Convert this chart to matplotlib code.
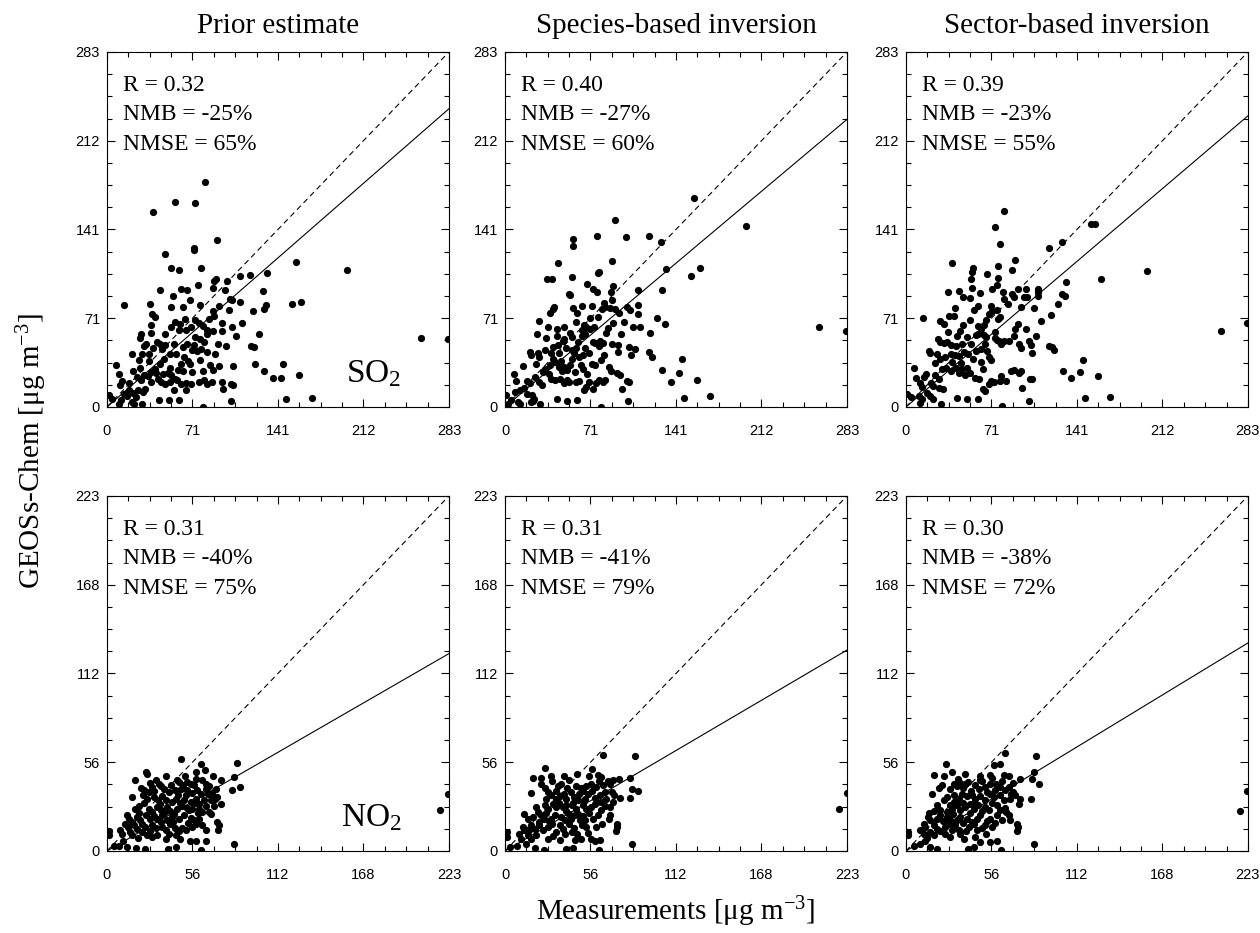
import numpy as np
import matplotlib
matplotlib.use("Agg")
import matplotlib.pyplot as plt
from matplotlib.ticker import AutoMinorLocator

plt.rcParams['font.family'] = ['Liberation Serif', 'DejaVu Serif']
plt.rcParams['mathtext.fontset'] = 'custom'
plt.rcParams['mathtext.rm'] = 'Liberation Serif'
plt.rcParams['mathtext.it'] = 'Liberation Serif:italic'

titles = ['Prior estimate', 'Species-based inversion', 'Sector-based inversion']
species = ['SO$_2$', 'NO$_2$']

so2_max = 282.8
no2_max = 223.4
so2_ticks = ['0', '71', '141', '212', '283']
no2_ticks = ['0', '56', '112', '168', '223']

# statistics printed in each panel
stat_R = [['0.32', '0.40', '0.39'], ['0.31', '0.31', '0.30']]
stat_NMB = [['-25', '-27', '-23'], ['-40', '-41', '-38']]
stat_NMSE = [['65', '60', '55'], ['75', '79', '72']]

# slope of the fitted line (through origin)
fit_slope = [[0.84, 0.81, 0.82], [0.556, 0.566, 0.586]]

so2_prior = [
    (81.2, 179.4), (56.3, 163.2), (73.2, 162.6), (38.4, 155.5), (90.6, 132.9), (71.8, 127.0),
    (72.0, 125.4), (48.3, 122.2), (53.0, 110.8), (59.3, 109.2), (77.9, 110.8), (132.2, 106.8),
    (156.0, 115.3), (198.5, 109.0), (118.4, 105.5), (110.0, 104.2), (99.1, 100.2), (88.6, 100.5),
    (90.0, 101.8), (75.6, 97.0), (44.2, 93.0), (61.0, 93.8), (66.5, 93.0), (98.0, 93.0),
    (128.7, 92.2), (54.4, 88.5), (68.5, 85.0), (76.8, 81.0), (87.5, 95.1), (101.9, 85.8),
    (103.8, 85.0), (110.0, 83.7), (35.3, 82.4), (14.1, 81.6), (52.7, 79.7), (62.7, 79.7),
    (92.5, 80.5), (101.0, 77.0), (131.1, 81.6), (129.5, 78.1), (153.2, 82.4), (160.7, 83.7),
    (120.4, 76.5), (37.3, 73.9), (39.5, 71.8), (88.9, 72.3), (87.8, 76.5), (73.2, 69.6),
    (64.6, 70.2), (56.3, 67.8), (60.5, 66.4), (52.7, 63.8), (36.0, 65.6), (76.2, 67.0),
    (79.5, 64.3), (84.0, 70.4), (95.2, 67.2), (111.8, 67.0), (103.0, 63.8), (82.8, 61.1),
    (83.0, 58.5), (69.6, 63.8), (65.2, 61.4), (59.6, 61.1), (48.3, 58.5), (28.2, 57.9),
    (27.6, 55.3), (36.0, 59.0), (87.5, 60.6), (106.6, 56.6), (125.6, 57.9), (95.0, 60.3),
    (41.4, 51.8), (43.6, 50.5), (47.8, 49.2), (55.5, 50.5), (32.0, 50.5), (30.7, 48.4),
    (66.3, 50.0), (72.0, 49.2), (76.8, 54.5), (77.6, 46.5), (62.7, 47.8), (92.2, 50.0),
    (98.6, 48.4), (118.7, 48.4), (121.2, 47.8), (38.4, 47.0), (45.8, 46.0), (82.6, 43.6),
    (74.8, 44.6), (20.7, 42.5), (29.0, 42.5), (34.5, 42.5), (51.9, 42.5), (57.4, 42.0),
    (89.2, 42.5), (47.2, 38.5), (26.8, 37.2), (34.5, 36.4), (66.8, 36.7), (68.5, 34.5),
    (61.0, 34.5), (76.8, 37.2), (85.0, 33.2), (93.0, 32.4), (104.1, 32.4), (122.3, 34.0),
    (145.8, 34.5), (7.2, 33.2), (27.3, 31.1), (21.5, 28.4), (36.7, 27.9), (40.9, 27.4),
    (46.4, 26.6), (50.5, 27.1), (53.3, 25.2), (58.8, 29.8), (63.0, 28.7), (70.1, 27.6),
    (79.0, 28.4), (87.8, 29.8), (129.8, 28.7), (159.0, 25.8), (136.9, 22.9), (144.1, 23.1),
    (9.7, 26.0), (24.8, 23.9), (28.4, 21.8), (34.0, 24.4), (42.2, 22.6), (44.5, 19.9),
    (48.0, 18.6), (51.9, 19.9), (36.4, 19.9), (58.3, 21.3), (61.6, 18.1), (65.7, 19.1),
    (69.9, 18.6), (76.0, 19.9), (80.0, 21.8), (82.6, 18.6), (87.2, 19.9), (95.5, 19.9),
    (102.4, 18.1), (104.4, 17.3), (96.1, 14.1), (65.2, 13.3), (55.8, 13.8), (31.8, 14.6),
    (25.7, 13.3), (29.8, 12.0), (17.9, 13.3), (10.5, 17.3), (13.8, 10.6), (16.6, 8.5),
    (21.5, 11.2), (11.9, 5.8), (3.9, 6.6), (1.7, 9.3), (9.9, 2.7), (21.0, 4.0),
    (22.4, 2.7), (29.0, 2.7), (43.3, 5.8), (51.1, 5.3), (59.9, 5.8), (79.8, 0.0),
    (102.2, 4.5), (147.7, 6.6), (169.2, 7.4), (259.8, 55.3), (282.4, 54.0),
    (40.0, 30.5), (44.0, 34.0), (52.0, 31.0), (56.0, 22.5), (63.5, 40.0), (70.0, 45.5),
    (72.5, 56.0), (80.5, 52.0), (31.0, 25.5), (18.5, 19.0), (24.0, 8.0), (12.5, 20.5),
]

so2_species = [
    (156.3, 166.8), (90.7, 149.2), (199.2, 143.9), (56.2, 134.0), (56.2, 128.4), (76.3, 135.9),
    (99.9, 135.4), (118.9, 135.9), (129.2, 131.1), (44.0, 114.6), (88.5, 115.9), (78.0, 107.9),
    (77.2, 107.1), (132.8, 109.8), (153.8, 104.7), (161.3, 110.6), (55.0, 103.9), (35.1, 102.1),
    (38.7, 101.8), (67.5, 97.8), (72.5, 93.8), (76.3, 91.4), (89.1, 96.7), (87.9, 91.4),
    (110.1, 93.5), (129.7, 93.5), (53.1, 89.8), (53.7, 89.0), (40.9, 79.9), (39.3, 77.8),
    (37.3, 74.6), (55.9, 79.1), (63.6, 80.7), (59.8, 74.6), (71.9, 80.5), (80.2, 78.3),
    (81.6, 82.6), (83.0, 79.9), (76.6, 71.9), (88.5, 85.3), (87.1, 78.6), (91.3, 77.8),
    (94.0, 74.6), (101.0, 79.4), (103.7, 77.3), (109.8, 81.3), (109.8, 73.8), (125.9, 71.1),
    (132.2, 66.1), (98.2, 67.4), (89.3, 66.6), (105.9, 63.9), (111.8, 63.4), (27.9, 68.5),
    (35.4, 63.4), (43.0, 62.1), (48.4, 63.4), (65.0, 65.3), (63.6, 61.3), (66.9, 63.9),
    (70.5, 61.8), (73.9, 63.9), (58.9, 67.9), (26.3, 57.8), (34.0, 54.6), (42.6, 56.5),
    (49.0, 53.8), (47.9, 52.5), (53.9, 58.6), (55.3, 55.4), (63.6, 56.8), (65.8, 58.1),
    (72.5, 52.0), (74.7, 50.6), (78.6, 52.2), (80.8, 50.6), (83.5, 58.6), (88.5, 50.1),
    (93.2, 49.3), (102.4, 48.0), (119.8, 59.2), (20.5, 44.0), (21.6, 41.3), (27.1, 42.6),
    (28.5, 40.0), (33.2, 45.3), (39.3, 48.0), (43.7, 49.3), (38.2, 42.6), (44.8, 43.2),
    (50.3, 46.6), (55.3, 45.3), (58.9, 46.6), (56.7, 42.6), (64.7, 41.3), (69.4, 42.6),
    (66.4, 46.6), (82.2, 41.3), (93.8, 44.0), (104.6, 41.3), (107.3, 45.8), (77.5, 48.5),
    (118.9, 44.0), (121.7, 40.0), (26.0, 34.6), (14.7, 32.8), (33.2, 30.6), (36.8, 33.3),
    (41.5, 36.0), (44.3, 32.0), (47.0, 28.8), (48.4, 32.0), (51.2, 29.3), (53.9, 33.3),
    (55.3, 38.6), (61.4, 40.0), (62.8, 33.3), (64.2, 30.6), (71.9, 34.6), (74.7, 33.3),
    (79.1, 37.3), (85.8, 32.0), (87.7, 28.5), (93.0, 27.2), (94.9, 25.3), (130.0, 29.3),
    (143.8, 27.2), (146.6, 38.4), (137.2, 20.0), (159.0, 21.3), (7.2, 26.6), (2.8, 2.7),
    (0.8, 9.9), (9.4, 20.8), (18.3, 20.8), (21.0, 18.7), (24.9, 24.0), (27.7, 20.0),
    (31.0, 17.3), (36.0, 26.6), (37.9, 22.6), (41.5, 21.3), (45.6, 22.6), (48.4, 18.7),
    (51.2, 21.3), (53.1, 20.0), (58.6, 20.0), (61.4, 20.8), (65.0, 13.3), (66.9, 16.0),
    (69.2, 20.0), (72.5, 14.7), (75.5, 18.7), (78.0, 21.3), (80.8, 19.5), (82.7, 21.3),
    (96.8, 14.1), (101.0, 20.8), (102.9, 20.0), (8.3, 12.0), (12.4, 13.3), (18.0, 10.7),
    (22.1, 9.9), (24.3, 6.7), (10.5, 4.0), (12.4, 2.7), (21.6, 4.0), (23.5, 4.8),
    (28.8, 2.1), (43.4, 6.7), (50.9, 4.8), (59.8, 5.3), (79.7, 0.0), (101.8, 4.5),
    (148.0, 7.5), (169.6, 8.5), (259.8, 64.0), (282.2, 60.8), (4.7, 5.9),
    (39.5, 38.5), (46.0, 37.0), (58.0, 28.0), (68.0, 26.0), (31.5, 27.5), (16.0, 15.5),
    (60.0, 52.0), (70.0, 71.0), (85.0, 63.0), (96.0, 58.0),
]

so2_sector = [
    (81.2, 155.8), (73.4, 143.0), (153.3, 145.6), (156.0, 145.9), (77.6, 129.9), (128.9, 131.3),
    (118.6, 126.7), (38.0, 114.5), (90.4, 117.4), (76.5, 112.6), (88.1, 109.2), (199.0, 108.4),
    (161.0, 101.7), (55.7, 110.5), (54.9, 107.3), (53.5, 102.0), (67.1, 106.0), (76.2, 102.5),
    (75.7, 97.2), (132.5, 99.3), (54.6, 95.0), (61.5, 90.8), (43.8, 92.7), (34.6, 91.3),
    (47.4, 87.3), (52.7, 86.5), (71.2, 94.0), (80.1, 91.3), (81.2, 86.0), (87.6, 90.0),
    (89.0, 87.3), (92.3, 94.0), (99.0, 94.0), (97.8, 87.3), (99.8, 87.3), (108.9, 94.0),
    (109.5, 91.3), (109.2, 88.7), (128.9, 90.0), (131.7, 88.1), (95.1, 79.3), (106.2, 78.5),
    (125.6, 82.0), (40.5, 78.5), (39.6, 72.7), (56.0, 77.5), (59.6, 80.7), (70.1, 80.7),
    (68.7, 74.0), (71.5, 76.7), (75.1, 77.5), (77.9, 71.4), (13.9, 70.6), (35.5, 72.7),
    (28.5, 68.7), (31.3, 66.0), (47.1, 65.2), (59.6, 64.7), (61.8, 62.0), (64.6, 65.2),
    (52.7, 69.2), (74.0, 59.9), (76.2, 70.0), (90.4, 62.0), (92.3, 66.0), (111.7, 68.7),
    (120.0, 73.2), (34.9, 59.4), (42.1, 56.7), (50.2, 55.9), (58.2, 57.2), (59.6, 58.0),
    (64.6, 57.5), (66.2, 55.9), (73.7, 54.8), (75.7, 53.2), (81.2, 52.7), (89.5, 56.7),
    (107.3, 56.7), (26.3, 54.0), (28.5, 51.4), (31.3, 50.6), (19.1, 44.7), (20.2, 42.6),
    (34.1, 51.9), (36.9, 49.3), (41.0, 48.7), (46.0, 50.0), (53.5, 50.0), (58.2, 44.7),
    (61.8, 46.1), (65.4, 50.0), (66.8, 44.7), (76.8, 52.7), (79.0, 50.0), (85.4, 52.7),
    (93.1, 50.0), (95.1, 46.6), (102.0, 52.7), (103.4, 49.3), (104.5, 43.1), (118.6, 48.7),
    (120.8, 47.4), (122.5, 45.5), (25.8, 42.1), (28.5, 38.1), (32.4, 40.2), (36.9, 42.1),
    (40.2, 41.3), (43.8, 40.7), (45.7, 35.4), (51.3, 42.1), (61.8, 35.9), (69.0, 40.2),
    (70.7, 37.5), (24.1, 35.4), (146.6, 37.5), (33.5, 31.4), (36.9, 28.8), (41.3, 31.4),
    (43.8, 27.4), (46.3, 30.1), (48.5, 25.3), (50.7, 31.4), (52.9, 27.4), (57.4, 23.4),
    (86.8, 28.8), (89.0, 29.6), (93.1, 27.4), (95.1, 28.8), (79.0, 24.8), (82.6, 20.8),
    (77.9, 20.8), (102.8, 22.6), (103.9, 22.1), (129.7, 28.8), (136.9, 23.4), (143.6, 28.0),
    (158.8, 24.8), (60.7, 22.1), (64.0, 14.1), (65.1, 12.8), (68.7, 18.1), (70.1, 20.8),
    (72.9, 20.0), (95.6, 14.9), (6.4, 31.4), (8.3, 23.4), (15.2, 24.2), (20.8, 19.4),
    (22.2, 16.8), (24.4, 25.3), (27.2, 22.1), (27.7, 15.4), (30.5, 14.1), (11.9, 19.4),
    (13.3, 16.0), (17.7, 11.4), (20.2, 8.8), (22.4, 6.7), (4.2, 8.3), (10.5, 8.8),
    (13.3, 6.1), (0.8, 10.1), (11.4, 3.5), (28.8, 2.1), (42.4, 6.9), (50.7, 6.1),
    (59.6, 6.1), (79.5, 0.8), (101.4, 4.8), (147.7, 7.5), (169.1, 8.3), (260.3, 60.7),
    (282.4, 66.8),
    (38.5, 36.0), (48.0, 44.0), (55.5, 38.5), (63.5, 30.0), (30.0, 30.5), (17.0, 26.0),
    (84.5, 82.0), (66.5, 69.0), (45.0, 60.5), (99.0, 62.5),
]

no2_prior = [
    (48.3, 57.7), (84.8, 55.4), (61.2, 54.6), (64.0, 50.8), (57.9, 49.8), (25.8, 49.8),
    (26.2, 48.3), (38.3, 47.0), (50.7, 47.2), (69.1, 47.2), (83.1, 46.6), (18.1, 44.5),
    (32.1, 44.5), (33.9, 42.4), (45.5, 44.9), (47.0, 43.5), (52.5, 43.5), (54.6, 42.4),
    (56.8, 41.4), (62.3, 44.9), (64.5, 42.4), (74.3, 44.9), (81.5, 38.6), (86.8, 40.3),
    (22.5, 39.7), (24.0, 38.2), (29.5, 40.3), (27.3, 37.2), (37.2, 39.3), (40.4, 37.2),
    (44.4, 38.2), (48.1, 39.3), (52.5, 38.2), (55.7, 36.5), (59.0, 38.2), (61.2, 36.1),
    (64.5, 39.3), (68.9, 36.5), (71.0, 39.3), (16.4, 34.0), (23.6, 35.1), (26.2, 33.0),
    (30.6, 34.0), (33.4, 31.9), (36.1, 34.4), (38.7, 32.3), (42.2, 30.9), (45.2, 33.0),
    (50.3, 31.9), (51.8, 35.1), (54.6, 30.9), (57.9, 33.0), (60.1, 29.8), (63.4, 31.9),
    (67.8, 32.3), (70.6, 33.0), (72.1, 34.0), (74.8, 29.8), (20.8, 28.1), (18.6, 26.7),
    (27.3, 26.7), (29.5, 24.6), (32.8, 27.7), (35.0, 25.6), (39.3, 27.7), (41.5, 25.2),
    (45.9, 26.7), (49.2, 28.1), (53.6, 25.6), (55.7, 26.7), (60.1, 26.7), (62.3, 24.6),
    (66.7, 24.6), (68.2, 23.1), (13.1, 22.5), (14.2, 20.4), (19.7, 21.4), (21.9, 19.3),
    (25.8, 22.5), (27.8, 20.4), (32.8, 20.4), (36.1, 22.5), (39.3, 19.3), (42.2, 21.4),
    (47.0, 20.4), (50.3, 22.5), (54.6, 21.0), (56.8, 19.3), (60.1, 20.4), (72.1, 18.3),
    (73.2, 16.2), (72.6, 13.0), (12.0, 17.2), (13.8, 15.1), (17.5, 16.2), (19.7, 14.1),
    (23.0, 17.2), (25.1, 15.1), (29.5, 16.2), (32.1, 14.7), (36.1, 15.1), (38.3, 13.0),
    (41.5, 17.2), (44.4, 14.7), (49.2, 14.7), (51.8, 13.0), (55.7, 15.1), (58.4, 16.8),
    (62.3, 16.2), (64.5, 13.0), (8.5, 13.0), (9.8, 10.9), (15.3, 12.0), (16.4, 9.9),
    (23.0, 12.0), (26.2, 9.9), (29.5, 8.8), (32.8, 9.9), (38.3, 7.8), (44.8, 9.9),
    (47.6, 7.8), (54.0, 6.3), (58.4, 6.3), (64.5, 6.3), (1.1, 12.6), (1.5, 9.9),
    (4.4, 3.1), (7.7, 2.9), (13.1, 2.5), (19.2, 1.9), (25.1, 1.5), (40.0, 1.5),
    (44.8, 2.5), (61.2, 0.4), (83.1, 4.6), (217.5, 25.6), (223.0, 35.7),
    (28.0, 43.0), (31.0, 37.5), (35.0, 41.0), (42.0, 41.5), (46.5, 35.5), (49.5, 41.5),
    (58.0, 45.0), (66.5, 41.0), (34.5, 29.5), (37.5, 24.0), (44.0, 23.5), (48.0, 30.0),
    (52.0, 27.0), (57.5, 30.0), (64.5, 28.0), (24.0, 30.0), (30.5, 22.0), (40.5, 10.5),
    (43.0, 18.5), (47.0, 12.5), (53.0, 17.5), (35.0, 18.0), (28.0, 12.5), (21.0, 24.0),
    (59.5, 24.0), (70.0, 28.5), (66.0, 36.0), (16.5, 18.0), (10.5, 6.0), (20.5, 8.0),
]

no2_species = [
    (64.1, 60.7), (84.9, 59.8), (25.8, 52.3), (57.1, 51.4), (18.2, 46.2), (23.6, 46.2),
    (29.8, 47.2), (38.3, 47.0), (47.3, 48.3), (54.7, 47.0), (60.8, 47.7), (62.4, 46.6),
    (74.4, 45.6), (81.6, 46.0), (17.1, 36.7), (23.6, 42.4), (25.8, 39.7), (34.6, 40.9),
    (36.8, 42.4), (40.7, 39.7), (43.3, 37.2), (46.2, 40.7), (49.9, 39.7), (51.0, 37.6),
    (56.5, 42.4), (59.7, 40.3), (61.3, 44.1), (64.1, 41.4), (67.4, 43.9), (68.5, 42.4),
    (70.7, 44.5), (82.7, 39.3), (87.1, 37.8), (75.1, 33.6), (81.6, 33.4), (28.0, 37.2),
    (30.2, 35.1), (33.5, 33.0), (35.7, 34.4), (38.5, 36.1), (40.0, 33.0), (45.1, 34.0),
    (47.7, 31.9), (52.1, 33.0), (54.3, 35.7), (58.6, 33.6), (60.4, 30.9), (63.0, 30.9),
    (65.6, 37.2), (69.6, 37.2), (71.3, 35.5), (20.4, 27.7), (21.4, 24.6), (25.8, 28.8),
    (28.0, 26.7), (31.3, 29.8), (33.5, 27.7), (37.9, 27.7), (39.6, 25.2), (43.8, 28.8),
    (46.6, 26.7), (51.0, 28.8), (53.2, 26.7), (56.5, 27.7), (58.6, 29.4), (63.0, 25.6),
    (68.5, 27.7), (12.3, 23.5), (15.3, 20.4), (18.2, 21.4), (23.6, 22.5), (25.4, 20.4),
    (30.2, 20.4), (32.4, 22.5), (36.8, 21.4), (38.9, 19.3), (42.9, 20.4), (45.5, 22.5),
    (51.0, 21.8), (52.5, 19.3), (57.5, 20.4), (68.5, 22.5), (68.1, 20.4), (73.3, 17.2),
    (72.9, 15.1), (72.2, 12.6), (11.6, 15.1), (12.7, 13.0), (17.1, 16.2), (19.3, 14.1),
    (22.5, 16.2), (24.7, 13.0), (28.0, 15.1), (30.6, 17.2), (35.7, 16.2), (37.9, 14.1),
    (41.6, 17.2), (45.1, 14.7), (50.3, 16.2), (53.2, 15.1), (59.7, 15.1), (63.5, 17.2),
    (1.1, 12.0), (1.3, 8.8), (9.4, 10.9), (10.5, 7.8), (14.9, 9.9), (17.1, 7.8),
    (28.0, 7.8), (31.3, 9.2), (35.7, 6.7), (45.5, 7.1), (49.9, 7.8), (56.0, 7.8),
    (58.6, 6.3), (61.9, 6.7), (3.5, 2.5), (7.7, 2.9), (13.8, 4.2), (19.3, 2.1),
    (25.4, 0.8), (40.0, 1.0), (44.4, 1.9), (61.5, 0.4), (83.2, 4.2), (217.9, 26.7),
    (223.2, 36.7),
    (31.0, 44.0), (33.0, 38.0), (42.0, 44.5), (44.5, 30.5), (48.5, 36.0), (53.0, 41.0),
    (57.0, 37.5), (62.0, 35.5), (66.0, 32.5), (35.5, 30.5), (41.5, 23.0), (47.5, 23.5),
    (49.0, 19.5), (55.0, 24.0), (60.5, 22.5), (65.5, 28.5), (27.0, 32.5), (22.0, 18.5),
    (33.5, 12.0), (39.5, 10.5), (43.5, 12.0), (47.0, 10.5), (54.5, 11.5), (26.5, 24.0),
    (70.5, 31.0), (20.5, 10.0), (15.5, 13.5), (40.0, 29.0), (29.0, 19.0), (51.5, 31.5),
]

no2_sector = [
    (64.5, 61.7), (85.0, 59.8), (26.4, 55.0), (57.8, 54.0), (61.7, 55.0), (30.1, 49.8),
    (18.1, 48.1), (24.6, 47.2), (38.8, 48.7), (48.2, 47.0), (48.6, 44.9), (55.1, 47.7),
    (56.2, 46.2), (63.9, 47.7), (67.1, 47.0), (74.8, 45.3), (83.5, 49.8), (82.2, 45.6),
    (87.2, 42.0), (17.0, 36.1), (21.4, 39.9), (23.5, 41.4), (31.2, 42.4), (33.3, 40.7),
    (35.5, 42.8), (38.8, 42.4), (40.3, 43.5), (45.3, 41.4), (47.5, 39.3), (51.9, 40.3),
    (55.1, 42.4), (59.1, 42.0), (61.7, 40.3), (65.0, 38.2), (67.1, 40.3), (70.0, 37.2),
    (71.5, 35.1), (74.8, 33.0), (73.7, 29.8), (81.9, 33.0), (24.6, 31.9), (26.8, 34.0),
    (31.2, 35.1), (34.4, 33.0), (36.6, 36.1), (39.9, 34.4), (43.2, 35.1), (45.3, 33.0),
    (48.6, 34.4), (51.9, 31.9), (55.1, 36.1), (57.3, 34.0), (61.7, 35.1), (63.9, 31.9),
    (68.2, 33.0), (20.3, 28.8), (22.4, 25.6), (28.6, 28.8), (30.1, 26.7), (33.3, 28.8),
    (35.5, 25.6), (38.8, 27.7), (41.6, 29.8), (44.2, 26.7), (46.9, 28.8), (51.9, 27.7),
    (54.1, 25.6), (59.5, 28.8), (61.2, 25.6), (14.8, 23.9), (14.2, 21.4), (15.9, 19.3),
    (20.3, 20.4), (22.0, 22.5), (26.8, 21.4), (29.0, 19.3), (33.3, 19.3), (35.5, 21.4),
    (39.9, 20.4), (43.2, 18.3), (46.4, 20.4), (48.6, 22.5), (53.0, 18.9), (55.1, 20.4),
    (59.5, 22.5), (62.8, 19.3), (67.6, 22.5), (68.2, 19.3), (72.6, 17.2), (73.2, 15.1),
    (72.6, 12.6), (11.6, 17.2), (12.6, 15.1), (18.1, 16.2), (20.3, 14.1), (25.7, 15.1),
    (27.9, 17.2), (32.3, 16.2), (34.4, 13.0), (41.0, 15.1), (44.2, 17.2), (49.7, 14.7),
    (51.9, 16.2), (56.2, 15.1), (9.4, 13.0), (11.6, 10.9), (15.9, 12.0), (18.1, 9.9),
    (25.7, 10.9), (29.0, 8.8), (35.5, 10.9), (37.7, 7.8), (45.3, 8.8), (48.6, 5.7),
    (54.7, 5.7), (59.5, 6.3), (1.1, 12.0), (1.3, 9.9), (5.0, 2.9), (9.4, 4.2),
    (12.6, 6.3), (15.5, 2.5), (20.3, 1.0), (40.3, 1.0), (44.2, 2.5), (61.9, 0.4),
    (83.5, 4.6), (218.0, 25.2), (223.0, 37.8),
    (28.5, 39.0), (34.0, 45.0), (37.0, 39.5), (42.5, 38.0), (50.0, 44.0), (53.0, 37.0),
    (58.0, 38.5), (63.0, 44.0), (68.5, 36.0), (27.0, 24.5), (31.5, 31.0), (37.0, 30.5),
    (42.0, 24.0), (49.5, 25.0), (56.5, 30.0), (64.5, 27.0), (24.0, 19.0), (31.0, 23.5),
    (37.5, 17.5), (46.5, 13.0), (52.5, 10.5), (39.0, 12.5), (22.5, 12.5), (58.5, 17.5),
    (65.5, 24.5), (18.5, 25.0), (44.5, 30.5), (30.0, 13.5), (14.0, 8.0), (70.0, 42.5),
]

panels = [[so2_prior, so2_species, so2_sector], [no2_prior, no2_species, no2_sector]]
limits = [so2_max, no2_max]
tick_labels = [so2_ticks, no2_ticks]

fig = plt.figure(figsize=(12.6, 9.33), dpi=100)

lefts = [0.0849, 0.4008, 0.7190]
bottoms = [0.5638, 0.0879]
w, h = 0.2714, 0.3805

for r in range(2):
    lim = limits[r]
    for c in range(3):
        ax = fig.add_axes([lefts[c], bottoms[r], w, h])
        pts = np.array(panels[r][c])
        ax.scatter(pts[:, 0], pts[:, 1], s=27, color='black', linewidths=0, zorder=3)

        ax.plot([0, lim], [0, lim], color='black', lw=0.8, dashes=(5, 3.5))
        ax.plot([0, lim], [0, lim * fit_slope[r][c]], color='black', lw=0.8)

        ax.set_xlim(0, lim)
        ax.set_ylim(0, lim)
        ticks = np.linspace(0, lim, 5)
        ax.set_xticks(ticks, tick_labels[r])
        ax.set_yticks(ticks, tick_labels[r])
        ax.xaxis.set_minor_locator(AutoMinorLocator(4))
        ax.yaxis.set_minor_locator(AutoMinorLocator(4))
        ax.tick_params(which='both', direction='in', top=True, right=True, width=0.8)
        ax.tick_params(which='major', length=5.5)
        ax.tick_params(which='minor', length=3.5)
        ax.tick_params(axis='x', which='major', pad=12)
        ax.tick_params(axis='y', which='major', pad=5)
        for lab in ax.get_xticklabels() + ax.get_yticklabels():
            lab.set_fontfamily('Liberation Sans')
            lab.set_fontsize(10.5)
        for sp in ax.spines.values():
            sp.set_linewidth(0.8)

        ax.text(0.048, 0.891, 'R = ' + stat_R[r][c], transform=ax.transAxes,
                fontsize=17, va='baseline')
        ax.text(0.048, 0.807, 'NMB = ' + stat_NMB[r][c] + '%', transform=ax.transAxes,
                fontsize=17, va='baseline')
        ax.text(0.048, 0.724, 'NMSE = ' + stat_NMSE[r][c] + '%', transform=ax.transAxes,
                fontsize=17, va='baseline')

        if c == 0:
            ax.text(0.862, 0.07, species[r], transform=ax.transAxes,
                    fontsize=24, ha='right', va='baseline')
        if r == 0:
            ax.set_title(titles[c], fontsize=21, pad=14)

fig.text(0.025, 0.5166, r'GEOSs-Chem [μg m$^{-3}$]', rotation=90,
         fontsize=21, ha='center', va='center')
fig.text(0.5365, 0.014, r'Measurements [μg m$^{-3}$]', fontsize=21,
         ha='center', va='baseline')

fig.savefig('out.png', dpi=100)
